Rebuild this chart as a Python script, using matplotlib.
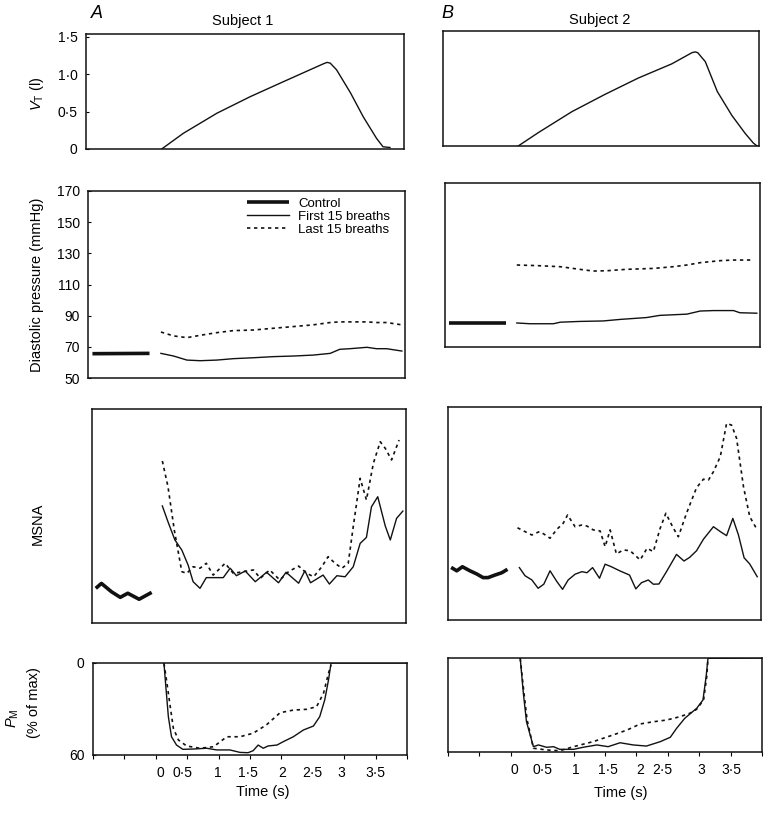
import matplotlib.pyplot as plt
from matplotlib.ticker import MultipleLocator, FixedLocator, NullLocator

plt.rcParams['font.family'] = ['Liberation Sans', 'DejaVu Sans']
plt.rcParams['mathtext.fontset'] = 'custom'
plt.rcParams['mathtext.rm'] = 'Liberation Sans'
plt.rcParams['mathtext.it'] = 'Liberation Sans:italic'
plt.rcParams['font.size'] = 10

# ===== data (time in s) =====
# tidal volume (l)
vt_t_a = [0.19, 0.53, 1.06, 1.58, 2.10, 2.52, 2.73, 2.79, 2.84, 2.94, 3.16, 3.36,
          3.57, 3.67, 3.78]
vt_a = [0.0, 0.21, 0.48, 0.70, 0.90, 1.06, 1.14, 1.16, 1.15, 1.06, 0.75, 0.43,
        0.14, 0.03, 0.02]
vt_t_b = [0.19, 0.51, 1.04, 1.56, 2.09, 2.62, 2.94, 2.99, 3.03, 3.15, 3.34, 3.57,
          3.78, 3.91, 3.97]
vt_b = [0.0, 0.18, 0.46, 0.69, 0.91, 1.10, 1.25, 1.26, 1.25, 1.13, 0.73, 0.41,
        0.17, 0.04, 0.0]

# diastolic pressure (mmHg)
ctrl_t = [-0.93, -0.03]
dp_ctrl_a = [65.6, 65.8]
dp_t_a = [0.15, 0.35, 0.56, 0.77, 1.03, 1.29, 1.61, 1.92, 2.24, 2.55, 2.82, 2.97,
          3.13, 3.40, 3.55, 3.71, 3.95]
dp_first_a = [65.8, 64.1, 61.5, 61.1, 61.5, 62.4, 63.0, 63.7, 64.1, 64.7, 65.8, 68.4,
              68.8, 69.7, 68.8, 68.8, 67.3]
dp_last_a = [79.5, 77.0, 75.9, 77.4, 79.1, 80.4, 80.8, 81.9, 83.0, 84.1, 85.6, 86.0,
             86.0, 86.0, 85.6, 85.6, 84.1]
dp_ctrl_b = [86.0, 86.0]
dp_t_b = [0.14, 0.35, 0.72, 0.83, 1.14, 1.51, 1.78, 2.20, 2.41, 2.84, 3.05, 3.26,
          3.58, 3.68, 3.95]
dp_first_b = [85.8, 85.3, 85.3, 86.3, 86.8, 87.1, 88.1, 89.3, 90.7, 91.5, 93.5, 93.8,
              93.8, 92.4, 92.1]
dp_tl_b = [0.14, 0.46, 0.83, 1.14, 1.35, 1.57, 1.88, 2.31, 2.62, 2.84, 3.05, 3.37,
           3.58, 3.89]
dp_last_b = [123.2, 122.8, 122.1, 120.4, 119.3, 119.5, 120.4, 121.0, 122.1, 123.2,
             124.7, 126.0, 126.4, 126.4]

# MSNA (arbitrary units)
ms_ct_a = [-0.94, -0.85, -0.69, -0.55, -0.43, -0.25, -0.05]
ms_ctrl_a = [16.2, 18.5, 14.6, 12.0, 13.9, 11.1, 14.3]
ms_t_a = [0.12, 0.21, 0.32, 0.43, 0.53, 0.61, 0.72, 0.82, 0.96, 1.09, 1.20, 1.30,
          1.44, 1.60, 1.78, 1.97, 2.09, 2.29, 2.39, 2.48, 2.68, 2.78, 2.90, 3.03,
          3.16, 3.27, 3.37, 3.45, 3.55, 3.67, 3.75, 3.85, 3.95]
ms_first_a = [54.7, 47.3, 38.8, 34.1, 27.1, 19.3, 16.2, 21.2, 21.2, 21.2, 25.6, 22.1,
              24.3, 19.3, 23.7, 18.8, 23.7, 18.6, 24.4, 18.8, 22.4, 18.2, 22.1, 21.6,
              26.3, 37.2, 40.0, 54.3, 59.0, 45.3, 38.8, 48.9, 52.3]
ms_tl_a = [0.12, 0.21, 0.31, 0.43, 0.51, 0.61, 0.72, 0.82, 0.93, 1.12, 1.25, 1.41,
           1.57, 1.68, 1.83, 1.99, 2.13, 2.29, 2.42, 2.53, 2.66, 2.76, 2.87, 2.98,
           3.08, 3.16, 3.27, 3.37, 3.48, 3.59, 3.67, 3.77, 3.89]
ms_last_a = [75.7, 63.7, 43.5, 24.0, 23.2, 26.3, 25.6, 27.9, 22.4, 27.9, 23.2, 24.0,
             24.8, 20.9, 24.8, 20.1, 24.0, 26.6, 23.2, 21.6, 26.3, 31.0, 27.9, 25.6,
             27.9, 45.0, 67.6, 57.5, 74.6, 84.7, 81.6, 76.2, 85.5]

ms_ct_b = [-0.95, -0.86, -0.77, -0.65, -0.54, -0.44, -0.36, -0.25, -0.14, -0.05]
ms_ctrl_b = [24.7, 23.1, 25.0, 23.1, 21.6, 19.9, 19.9, 21.1, 22.2, 23.8]
ms_t_b = [0.14, 0.23, 0.34, 0.44, 0.53, 0.63, 0.74, 0.83, 0.92, 1.03, 1.14, 1.22,
          1.31, 1.42, 1.51, 1.61, 1.75, 1.90, 2.00, 2.09, 2.20, 2.28, 2.37, 2.49,
          2.65, 2.77, 2.86, 2.97, 3.08, 3.24, 3.35, 3.45, 3.55, 3.64, 3.73, 3.82, 3.94]
ms_first_b = [24.6, 20.8, 18.8, 14.9, 16.8, 23.1, 18.0, 14.4, 18.8, 21.5, 22.7, 22.2,
              24.6, 19.6, 26.2, 25.0, 23.0, 21.1, 14.6, 17.5, 18.8, 16.8, 16.9, 22.7,
              30.8, 27.7, 29.4, 32.5, 37.9, 43.8, 41.5, 39.6, 47.7, 39.9, 29.2, 26.3, 20.3]
ms_tl_b = [0.11, 0.23, 0.34, 0.46, 0.53, 0.63, 0.74, 0.84, 0.91, 1.03, 1.14, 1.22,
           1.32, 1.43, 1.51, 1.59, 1.69, 1.80, 1.91, 2.07, 2.18, 2.28, 2.39, 2.48,
           2.60, 2.68, 2.81, 2.97, 3.08, 3.16, 3.24, 3.35, 3.45, 3.53, 3.61, 3.72,
           3.82, 3.94]
ms_last_b = [43.3, 41.5, 39.9, 41.5, 40.4, 38.4, 42.6, 45.4, 49.3, 43.8, 44.6, 44.1,
             42.3, 41.8, 34.4, 42.3, 31.0, 32.9, 32.5, 28.2, 33.7, 32.1, 43.1, 50.1,
             43.1, 39.1, 50.1, 62.1, 66.1, 65.7, 69.6, 76.7, 92.3, 91.5, 85.3, 62.6,
             48.5, 42.3]

# mouth pressure (% of max)
pm_t_a = [0.13, 0.16, 0.20, 0.25, 0.33, 0.43, 0.60, 0.81, 0.97, 1.18, 1.34, 1.47,
          1.55, 1.63, 1.71, 1.79, 1.93, 2.03, 2.19, 2.35, 2.51, 2.61, 2.69, 2.75,
          2.79, 2.83, 4.0]
pm_first_a = [0.2, 15.5, 35.0, 48.1, 53.5, 56.3, 56.1, 55.6, 56.7, 56.7, 58.3, 58.5,
              57.2, 53.5, 55.6, 54.1, 53.5, 51.3, 48.1, 43.7, 41.1, 35.0, 24.1, 11.1,
              0.2, 0.0, 0.0]
pm_tl_a = [0.13, 0.17, 0.23, 0.28, 0.36, 0.49, 0.70, 0.92, 1.13, 1.34, 1.55, 1.76,
           1.98, 2.19, 2.40, 2.56, 2.67, 2.75, 2.79]
pm_last_a = [0.2, 11.1, 28.5, 42.6, 50.2, 54.1, 55.6, 54.6, 48.1, 48.1, 45.8, 40.4,
             32.4, 30.7, 30.2, 28.5, 19.8, 6.7, 1.3]
pm_t_b = [0.15, 0.20, 0.25, 0.36, 0.44, 0.57, 0.68, 0.78, 1.00, 1.15, 1.37, 1.55,
          1.74, 1.95, 2.16, 2.38, 2.54, 2.64, 2.77, 2.96, 3.06, 3.11, 3.14, 4.0]
pm_first_b = [0.2, 22.5, 40.7, 56.6, 55.5, 57.0, 56.6, 58.3, 58.3, 57.0, 55.5, 56.6,
              54.1, 55.5, 56.2, 53.4, 50.6, 44.9, 38.5, 32.1, 26.8, 11.9, 0.2, 0.0]
pm_tl_b = [0.15, 0.21, 0.26, 0.36, 0.57, 0.78, 1.00, 1.31, 1.63, 1.85, 2.06, 2.27,
           2.48, 2.69, 2.85, 2.96, 3.07, 3.12, 3.14]
pm_last_b = [0.2, 22.5, 39.6, 57.6, 58.7, 59.2, 56.6, 53.4, 49.1, 46.0, 42.1, 40.7,
             39.6, 37.5, 35.3, 32.7, 26.8, 11.9, 0.2]

# time tick labels (placed as in the original)
tick_lbl = ["0", "0·5", "1", "1·5", "2", "2·5", "3", "3·5"]
tick_pos_a = [0.08, 0.42, 0.99, 1.46, 2.02, 2.50, 2.96, 3.49]
tick_pos_b = [0.05, 0.50, 1.04, 1.55, 2.06, 2.41, 3.04, 3.52]

W, H = 770, 814
fig = plt.figure(figsize=(W / 100, H / 100), dpi=100)

K = "#111111"
solid = dict(color=K, lw=1.0)
thick = dict(color=K, lw=2.6, solid_capstyle="butt")
dotted = dict(color=K, lw=1.2, linestyle=(0, (2, 2.2)))


def panel(x0, y0, x1, y1):
    ax = fig.add_axes([x0 / W, 1 - y1 / H, (x1 - x0) / W, (y1 - y0) / H])
    ax.set_xlim(-1, 4)
    ax.xaxis.set_major_locator(NullLocator())
    for s in ax.spines.values():
        s.set_linewidth(1.1)
        s.set_color(K)
    ax.tick_params(axis="y", direction="in", length=2, width=0.8, pad=6)
    return ax


def time_axis(ax, pos):
    ax.xaxis.set_minor_locator(MultipleLocator(0.5))
    ax.xaxis.set_major_locator(FixedLocator(pos))
    ax.set_xticklabels(tick_lbl)
    ax.tick_params(axis="x", which="major", length=0, pad=8, labelsize=10)
    ax.tick_params(axis="x", which="minor", direction="out", length=3, width=0.8)


def ftext(x, y, s, **kw):
    fig.text(x / W, 1 - y / H, s, **kw)


# ===== A: subject 1 =====
ax = panel(86, 34, 404, 149)
ax.plot(vt_t_a, vt_a, **solid)
ax.set_ylim(0, 1.54)
ax.set_yticks([0, 0.5, 1.0, 1.5])
ax.set_yticklabels(["0", "0·5", "1·0", "1·5"])

ax = panel(88, 191, 405, 378)
ax.plot(ctrl_t, dp_ctrl_a, label="Control", **thick)
ax.plot(dp_t_a, dp_first_a, label="First 15 breaths", **solid)
ax.plot(dp_t_a, dp_last_a, label="Last 15 breaths", **dotted)
ax.set_ylim(50, 170)
ax.set_yticks(range(50, 171, 20))
ax.legend(loc="upper left", bbox_to_anchor=(0.5, 0.965), frameon=False,
          fontsize=9.5, handlelength=3.2, handletextpad=0.7, labelspacing=0.05,
          borderpad=0, borderaxespad=0)

ax = panel(92, 409, 406, 623)
ax.plot(ms_ct_a, ms_ctrl_a, **thick)
ax.plot(ms_t_a, ms_first_a, **solid)
ax.plot(ms_tl_a, ms_last_a, **dotted)
ax.set_ylim(0, 100)
ax.set_yticks([])

ax = panel(93, 663, 407, 755)
ax.plot(pm_t_a, pm_first_a, **solid)
ax.plot(pm_tl_a, pm_last_a, **dotted)
ax.set_ylim(60, 0)
ax.set_yticks([0, 60])
time_axis(ax, tick_pos_a)
ax.set_xlabel("Time (s)", fontsize=10.5, labelpad=8)
ax.xaxis.set_label_coords(0.54, -0.33)

# ===== B: subject 2 =====
ax = panel(443, 31, 759, 146)
ax.plot(vt_t_b, vt_b, **solid)
ax.set_ylim(0, 1.54)
ax.set_yticks([])

# same pressure scale as A, but a shorter box
ax = panel(445, 183, 760, 347)
ax.plot(ctrl_t, dp_ctrl_b, **thick)
ax.plot(dp_t_b, dp_first_b, **solid)
ax.plot(dp_tl_b, dp_last_b, **dotted)
ax.set_ylim(70.3, 176.1)
ax.set_yticks([])

ax = panel(448, 407, 761, 620)
ax.plot(ms_ct_b, ms_ctrl_b, **thick)
ax.plot(ms_t_b, ms_first_b, **solid)
ax.plot(ms_tl_b, ms_last_b, **dotted)
ax.set_ylim(0, 100)
ax.set_yticks([])

ax = panel(448, 658, 762, 752)
ax.plot(pm_t_b, pm_first_b, **solid)
ax.plot(pm_tl_b, pm_last_b, **dotted)
ax.set_ylim(60, 0)
ax.set_yticks([])
time_axis(ax, tick_pos_b)
ax.set_xlabel("Time (s)", fontsize=10.5, labelpad=8)
ax.xaxis.set_label_coords(0.55, -0.36)

# ===== labels =====
ftext(97, 14, "A", fontsize=13, style="italic", ha="center", va="center")
ftext(447, 14, "B", fontsize=13, style="italic", ha="center", va="center")
ftext(243, 21, "Subject 1", fontsize=10.5, ha="center", va="center")
ftext(600, 20, "Subject 2", fontsize=10.5, ha="center", va="center")
ftext(37, 94, r"$V_{\rm T}$ (l)", fontsize=10.5, rotation=90, ha="center", va="center")
ftext(37, 285, "Diastolic pressure (mmHg)", fontsize=10.5, rotation=90,
      ha="center", va="center")
ftext(38, 524, "MSNA", fontsize=10.5, rotation=90, ha="center", va="center")
ftext(13, 718, r"$P_{\rm M}$", fontsize=10.5, rotation=90, ha="center", va="center")
ftext(34, 703, "(% of max)", fontsize=10.5, rotation=90, ha="center", va="center")

fig.savefig("out.png", dpi=100)
